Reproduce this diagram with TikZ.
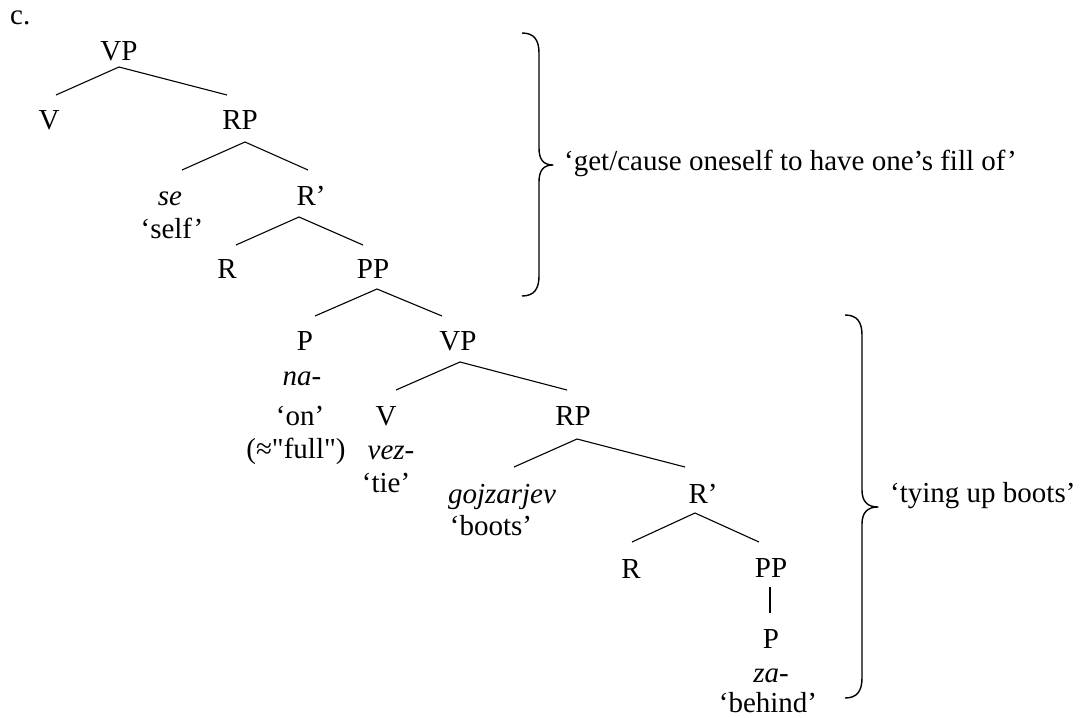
\documentclass[tikz,border=0pt]{standalone}
\usepackage{fontspec}
\setmainfont{Liberation Serif}[Ligatures=TeXOff]
\usetikzlibrary{calc}

\begin{document}
\begin{tikzpicture}[x=1pt, y=-1pt,
  every node/.style={inner sep=0pt, anchor=base, font=\fontsize{29}{34}\selectfont},
  lbl/.style={anchor=base west},
  branch/.style={line width=1.1pt},
  bracket/.style={line width=1.4pt, line join=round}]
\useasboundingbox (0,0) rectangle (1083,717);

% example label
\node[lbl] (ex) at (10,25) {c.};

% upper tree
\node (vpA) at (119,60) {VP};
\node (vA) at (49,129) {V};
\node (rpA) at (240,129) {RP};
\node (se) at (170,205) {\itshape se};
\node (self) at (172,238) {‘self’};
\node (rbA) at (311,205) {R’};
\node (rA) at (227,278) {R};
\node (ppA) at (373,278) {PP};

% lower tree
\node (pA) at (305,350) {P};
\node (na) at (302,385) {\itshape na-};
\node (on) at (300,425) {‘on’};
\node (full) at (296,458) {(≈"full")};
\node (vpB) at (458,350) {VP};
\node (vB) at (386,425) {V};
\node (vez) at (391,459) {\itshape vez-};
\node (tie) at (386,492) {‘tie’};
\node (rpB) at (573,425) {RP};
\node (goj) at (502,503) {\itshape gojzarjev};
\node (boots) at (491,535) {‘boots’};
\node (rbB) at (703,503) {R’};
\node (rB) at (631,578) {R};
\node (ppB) at (771,577) {PP};
\node (pB) at (771,648) {P};
\node (za) at (771,682) {\itshape za-};
\node (behind) at (768,712) {‘behind’};

% branches
\draw[branch] ($(vA.base)+(7,-34)$) -- ($(vpA.base)+(0,7)$) -- ($(rpA.base)+(-13,-34)$);
\draw[branch] ($(se.base)+(12,-35)$) -- ($(rpA.base)+(5,13)$) -- ($(rbA.base)+(-3,-35)$);
\draw[branch] ($(rA.base)+(9,-33)$) -- ($(rbA.base)+(-12,12)$) -- ($(ppA.base)+(-10,-33)$);
\draw[branch] ($(pA.base)+(10,-34)$) -- ($(ppA.base)+(4,11)$) -- ($(vpB.base)+(-16,-34)$);
\draw[branch] ($(vB.base)+(10,-35)$) -- ($(vpB.base)+(2,12)$) -- ($(rpB.base)+(-6,-35)$);
\draw[branch] ($(goj.base)+(12,-36)$) -- ($(rpB.base)+(4,14)$) -- ($(rbB.base)+(-18,-36)$);
\draw[branch] ($(rB.base)+(1,-36)$) -- ($(rbB.base)+(-8,10)$) -- ($(ppB.base)+(-12,-35)$);
\draw[branch] ($(ppB.base)+(-1,10)$) -- ($(pB.base)+(-1,-35)$);

% gloss labels
\node[lbl] (glossA) at (564,170) {‘get/cause oneself to have one’s fill of’};
\node[lbl] (glossB) at (890,502) {‘tying up boots’};

% braces
\draw[bracket] (522,33) .. controls (534,33) and (539,40) .. (539,53)
  -- (539,148) .. controls (539,159) and (543,165) .. (553,165)
  .. controls (543,165) and (539,171) .. (539,182)
  -- (539,276) .. controls (539,289) and (534,296) .. (522,296);
\draw[bracket] (845,315) .. controls (857,315) and (862,322) .. (862,335)
  -- (862,490) .. controls (862,501) and (867,507) .. (878,507)
  .. controls (867,507) and (862,513) .. (862,524)
  -- (862,678) .. controls (862,691) and (857,698) .. (845,698);
\end{tikzpicture}
\end{document}
